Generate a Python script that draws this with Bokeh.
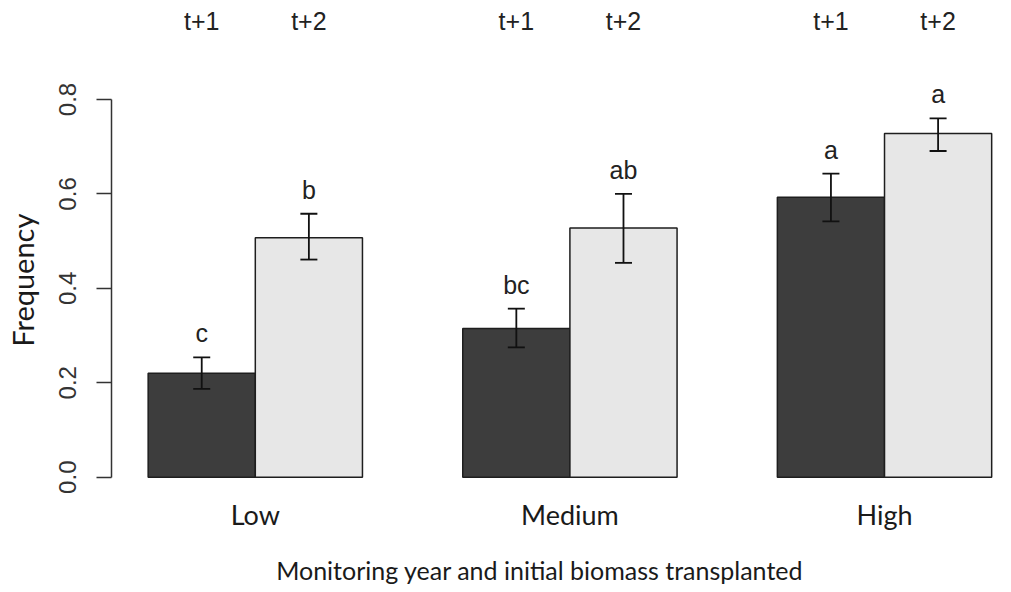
import numpy as np
from bokeh.plotting import figure
from bokeh.models import (ColumnDataSource, LinearAxis, FixedTicker, Range1d,
                          Whisker, TeeHead, CustomJSTickFormatter)
from bokeh.core.properties import value
from bokeh.embed import file_html
from bokeh.resources import INLINE

# ---- data ----
groups = ["Low", "Medium", "High"]
years = ["t+1", "t+2"]
freq_t1 = [0.220, 0.315, 0.593]
freq_t2 = [0.507, 0.528, 0.728]
lower_t1 = [0.187, 0.275, 0.542]
upper_t1 = [0.254, 0.357, 0.643]
lower_t2 = [0.461, 0.454, 0.691]
upper_t2 = [0.558, 0.600, 0.760]
letters_t1 = ["c", "bc", "a"]
letters_t2 = ["b", "ab", "a"]
y_ticks = [0.0, 0.2, 0.4, 0.6, 0.8]
x_title = "Monitoring year and initial biomass transplanted"
y_title = "Frequency"

SANS = "Liberation Sans"
CAL = "Lato"

half = 0.1703
gi = np.arange(len(groups), dtype=float)
x1 = gi - half
x2 = gi + half
zeros = [0.0] * len(groups)

src1 = ColumnDataSource(dict(x=x1, top=freq_t1, lo=lower_t1, up=upper_t1,
                             let=letters_t1, yr=[years[0]] * len(groups), z=zeros))
src2 = ColumnDataSource(dict(x=x2, top=freq_t2, lo=lower_t2, up=upper_t2,
                             let=letters_t2, yr=[years[1]] * len(groups), z=zeros))
gsrc = ColumnDataSource(dict(x=gi, name=groups, z=zeros))

p = figure(width=1008, height=589, output_backend="svg", toolbar_location=None,
           x_axis_type=None, y_axis_type=None,
           x_range=Range1d(-0.4571, 2.3941), y_range=Range1d(-0.23788, 1.00974),
           min_border_left=111, min_border_right=0, min_border_top=0,
           min_border_bottom=0)
p.outline_line_color = None
p.background_fill_color = "white"
p.border_fill_color = "white"

bw = 2 * half
p.vbar(x="x", top="top", bottom=0, width=bw, source=src1,
       fill_color="#3d3d3d", line_color="#1e1e1e", line_width=1.5)
p.vbar(x="x", top="top", bottom=0, width=bw, source=src2,
       fill_color="#e7e7e7", line_color="#1e1e1e", line_width=1.5)

for s in (src1, src2):
    w = Whisker(base="x", lower="lo", upper="up", source=s, level="overlay",
                line_color="#111111", line_width=1.8,
                upper_head=TeeHead(size=17, line_color="#111111", line_width=1.8),
                lower_head=TeeHead(size=17, line_color="#111111", line_width=1.8))
    p.add_layout(w)
    p.text(x="x", y="up", text="let", source=s, text_align="center",
           text_baseline="alphabetic", y_offset=-24, text_font=value(SANS),
           text_font_size="25px", text_color="#222222")
    p.text(x="x", y="z", text="yr", source=s, text_align="center",
           text_baseline="alphabetic", y_offset=-456, text_font=value(SANS),
           text_font_size="25px", text_color="#222222")

p.text(x="x", y="z", text="name", source=gsrc, text_align="center",
       text_baseline="alphabetic", y_offset=37, text_font=value(CAL),
       text_font_size="27px", text_color="#1a1a1a")
p.text(x=[1.0], y=[0.0], text=[x_title],
       text_align="center", text_baseline="alphabetic", x_offset=-30, y_offset=93,
       text_font=value(CAL), text_font_size="25px", text_color="#1a1a1a")

yaxis = LinearAxis(bounds=(0, 0.8), ticker=FixedTicker(ticks=y_ticks),
                   formatter=CustomJSTickFormatter(code="return tick.toFixed(1);"),
                   axis_label="\u00a0\u00a0\u00a0\u00a0" + y_title)
yaxis.major_tick_out = 15
yaxis.major_tick_in = 0
yaxis.minor_tick_line_color = None
yaxis.axis_line_width = 1.5
yaxis.axis_line_color = "#333333"
yaxis.major_tick_line_width = 1.5
yaxis.major_tick_line_color = "#333333"
yaxis.major_label_orientation = "vertical"
yaxis.major_label_text_font = SANS
yaxis.major_label_text_font_size = "24px"
yaxis.major_label_text_color = "#333333"
yaxis.major_label_standoff = 20
yaxis.axis_label_text_font = CAL
yaxis.axis_label_text_font_size = "29px"
yaxis.axis_label_text_font_style = "normal"
yaxis.axis_label_text_color = "#1a1a1a"
yaxis.axis_label_standoff = 17
p.add_layout(yaxis, "left")

open("out.html", "w").write(file_html(p, INLINE))
